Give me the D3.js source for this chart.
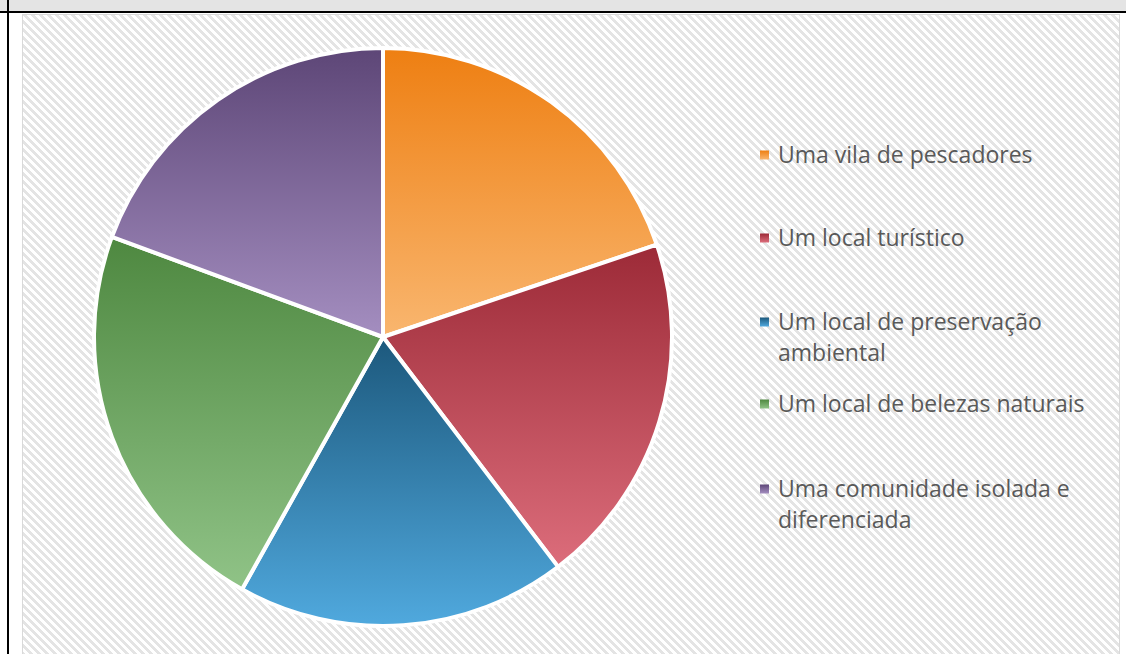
<!DOCTYPE html>
<html>
<head>
<meta charset="utf-8">
<script src="https://cdn.jsdelivr.net/npm/d3@7"></script>
<style>
  body { margin: 0; background: #fff; }
  svg { display: block; }
</style>
</head>
<body>
<div class="chart"></div>
<script>
// categories and values
var categories = ["Uma vila de pescadores", "Um local turístico", "Um local de preservação ambiental",
                  "Um local de belezas naturais", "Uma comunidade isolada e diferenciada"];
var values = [44, 44, 41, 50, 43];
var legendLines = [["Uma vila de pescadores"], ["Um local turístico"], ["Um local de preservação", "ambiental"],
                   ["Um local de belezas naturais"], ["Uma comunidade isolada e", "diferenciada"]];
var topColors = ["#ee7f12", "#9c2a37", "#1c587c", "#4e8840", "#5d4677"];
var bottomColors = ["#f9b66f", "#dc6d7b", "#50a9de", "#90c387", "#a48ec0"];

function loadChart(){
  var W = 1126, H = 654;
  var svg = d3.select(".chart").append("svg")
              .attr("width", W)
              .attr("height", H);
  var defs = svg.append("defs");

  // hatch pattern
  var pat = defs.append("pattern")
                .attr("id", "hatch")
                .attr("patternUnits", "userSpaceOnUse")
                .attr("width", 8).attr("height", 8);
  pat.append("rect").attr("width", 8).attr("height", 8).attr("fill", "#fff");
  d3.range(8).forEach(function(r){
    [0, -8, 8].forEach(function(off){
      pat.append("rect")
         .attr("x", r + off).attr("y", r)
         .attr("width", 4).attr("height", 1)
         .attr("fill", "#e4e4e4")
         .attr("shape-rendering", "crispEdges");
    });
  });

  // slice gradients
  categories.forEach(function(c, i){
    var g = defs.append("linearGradient")
                .attr("id", "grad" + i)
                .attr("x1", 0).attr("y1", 0).attr("x2", 0).attr("y2", 1);
    g.append("stop").attr("offset", "0%").attr("stop-color", topColors[i]);
    g.append("stop").attr("offset", "100%").attr("stop-color", bottomColors[i]);
  });

  // frame
  svg.append("rect").attr("x", 0).attr("y", 0).attr("width", W).attr("height", 11).attr("fill", "#e4e4e4");
  svg.append("rect").attr("x", 0).attr("y", 11).attr("width", W).attr("height", 2).attr("fill", "#000");
  svg.append("rect").attr("x", 7).attr("y", 0).attr("width", 2).attr("height", H).attr("fill", "#000");

  svg.append("rect")
     .attr("x", 22.5).attr("y", 14.5)
     .attr("width", 1097).attr("height", 700)
     .attr("fill", "url(#hatch)")
     .attr("stroke", "#d9d9d9")
     .attr("stroke-width", 1);

  // pie
  var cx = 383, cy = 337, r = 289;
  var pie = d3.pie().sort(null).value(function(d){ return d; });
  var arc = d3.arc().innerRadius(0).outerRadius(r);
  var arcs = pie(values);

  var pieG = svg.append("g").attr("transform", "translate(" + cx + "," + cy + ")");
  pieG.selectAll("path")
      .data(arcs)
      .enter()
      .append("path")
      .attr("d", arc)
      .attr("fill", function(d, i){ return "url(#grad" + i + ")"; })
      .attr("stroke", "#fff")
      .attr("stroke-width", 4)
      .attr("stroke-linejoin", "round");

  // legend
  var legendY = [155, 238, 322, 404, 489];
  var legend = svg.append("g");
  var items = legend.selectAll("g")
                    .data(categories)
                    .enter()
                    .append("g")
                    .attr("transform", function(d, i){ return "translate(760," + legendY[i] + ")"; });
  items.append("rect")
       .attr("x", 0).attr("y", -4.5)
       .attr("width", 9).attr("height", 9)
       .attr("fill", function(d, i){ return "url(#grad" + i + ")"; });
  items.each(function(d, i){
    var t = d3.select(this).append("text")
              .attr("x", 18).attr("y", 8)
              .style("font-family", "'Open Sans', sans-serif")
              .style("font-size", "23px")
              .style("fill", "#595959");
    legendLines[i].forEach(function(line, j){
      t.append("tspan").attr("x", 18).attr("dy", j === 0 ? 0 : 31).text(line);
    });
  });
}

loadChart();
</script>
</body>
</html>
